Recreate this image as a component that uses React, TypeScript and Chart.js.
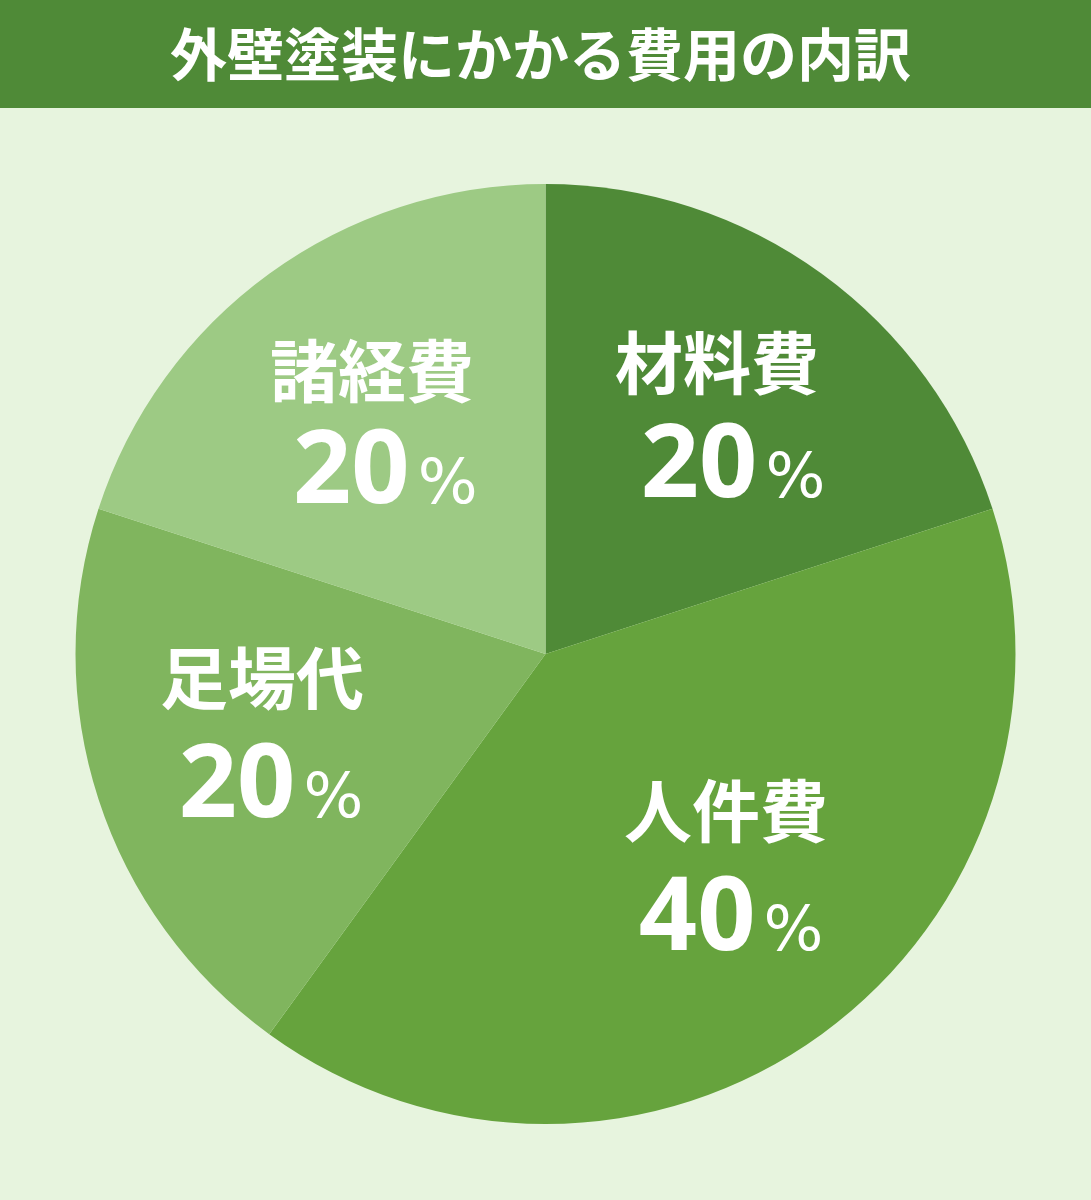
import { useEffect, useRef } from 'react';
import { Chart, ArcElement, PieController } from 'chart.js';

Chart.register(ArcElement, PieController);

// Data
const categories = ['材料費', '人件費', '足場代', '諸経費'];
const shares = [20, 40, 20, 20];
const sliceColors = ['#4f8a37', '#66a33d', '#80b55e', '#9dca84'];

// Label anchors, as fractions of the pie radius from its centre (name, value)
const nameAnchors = [
  [0.365, -0.618],
  [0.384, 0.335],
  [-0.603, 0.052],
  [-0.369, -0.601],
];
const valueAnchors = [
  [0.399, -0.412],
  [0.395, 0.55],
  [-0.584, 0.269],
  [-0.341, -0.399],
];

const sliceLabels = {
  id: 'sliceLabels',
  afterDatasetsDraw(chart: Chart) {
    const ctx = chart.ctx;
    const meta = chart.getDatasetMeta(0);
    meta.data.forEach((el: any, i: number) => {
      const { x, y, outerRadius } = el.getProps(['x', 'y', 'outerRadius'], true);
      ctx.save();
      ctx.fillStyle = '#ffffff';

      // category name
      const nx = x + nameAnchors[i][0] * outerRadius;
      const ny = y + nameAnchors[i][1] * outerRadius;
      ctx.textAlign = 'center';
      ctx.textBaseline = 'middle';
      ctx.font = 'bold 68px "Noto Sans CJK JP"';
      ctx.fillText(categories[i], nx, ny);

      // percentage: big number + small %
      const vx = x + valueAnchors[i][0] * outerRadius;
      const vy = y + valueAnchors[i][1] * outerRadius;
      const num = String(shares[i]);
      const numFont = 'bold 102px "Noto Sans"';
      const pctFont = '63px "DejaVu Sans"';
      ctx.font = numFont;
      const wn = ctx.measureText(num).width;
      ctx.font = pctFont;
      const wp = ctx.measureText('%').width;
      const gap = 8;
      const left = vx - (wn + gap + wp) / 2;
      const base = vy + 37;
      ctx.textAlign = 'left';
      ctx.textBaseline = 'alphabetic';
      ctx.font = numFont;
      ctx.fillText(num, left, base);
      ctx.font = pctFont;
      ctx.fillText('%', left + wn + gap, base);
      ctx.restore();
    });
  },
};

const CostBreakdownPie = () => {
  const canvasRef = useRef<HTMLCanvasElement | null>(null);
  const chartRef = useRef<Chart | null>(null);

  useEffect(() => {
    document.body.style.margin = '0';
    if (!canvasRef.current) return;
    const ctx = canvasRef.current.getContext('2d');
    if (!ctx) return;

    if (chartRef.current) chartRef.current.destroy();

    chartRef.current = new Chart(ctx, {
      type: 'pie',
      data: {
        labels: categories,
        datasets: [
          {
            data: shares,
            backgroundColor: sliceColors,
            borderWidth: 0,
          },
        ],
      },
      options: {
        responsive: false,
        animation: false,
        events: [],
        radius: 470,
        layout: { padding: 0 },
        plugins: {
          legend: { display: false },
          tooltip: { enabled: false },
        },
      },
      plugins: [sliceLabels],
    });

    return () => {
      if (chartRef.current) {
        chartRef.current.destroy();
        chartRef.current = null;
      }
    };
  }, []);

  return (
    <div style={{ width: 1091, height: 1200, background: '#e7f4de', overflow: 'hidden' }}>
      <div
        style={{
          height: 108,
          boxSizing: 'border-box',
          paddingBottom: 6,
          background: '#4f8a37',
          color: '#ffffff',
          display: 'flex',
          alignItems: 'center',
          justifyContent: 'center',
          fontFamily: '"Noto Sans CJK JP", sans-serif',
          fontWeight: 700,
          fontSize: 57,
          lineHeight: 1,
        }}
      >
        <span style={{ display: 'inline-block', marginLeft: -10 }}>
          外壁塗装にかかる費用の内訳
        </span>
      </div>
      <canvas ref={canvasRef} width={1091} height={1092} style={{ display: 'block' }} />
    </div>
  );
};

export default function App() {
  return <CostBreakdownPie />;
}
